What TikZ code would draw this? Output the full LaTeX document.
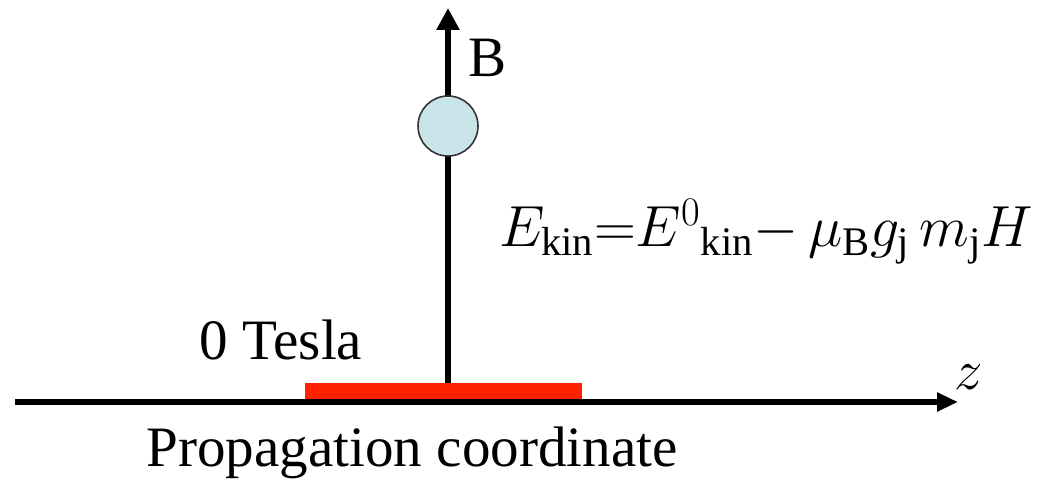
\RequirePackage{fix-cm}
\documentclass[tikz,border=0pt]{standalone}
\usepackage{fontspec}
\setmainfont{Liberation Serif}
\usepackage{xcolor}
\usetikzlibrary{arrows.meta,positioning}
\definecolor{ink}{HTML}{000000}
\definecolor{barred}{HTML}{FF2200}
\definecolor{atomfill}{HTML}{C8E4E8}
\definecolor{atomedge}{HTML}{333333}
\tikzset{
  axis/.style={-{Triangle[length=4.2mm,width=3.6mm]}, line width=3.2pt, draw=ink},
  fieldarrow/.style={-{Triangle[length=4.4mm,width=4.4mm]}, line width=3.2pt, draw=ink},
  bar/.style={fill=barred, draw=none, minimum width=55.4mm, minimum height=3.2mm, inner sep=0pt},
  atom/.style={circle, fill=atomfill, draw=atomedge, line width=0.9pt, minimum size=12mm, inner sep=0pt},
  label/.style={font=\fontsize{32.5}{36}\selectfont, text=ink, inner sep=0pt},
  formula/.style={font=\fontsize{33}{40}\selectfont, text=ink, inner sep=0pt}
}
\begin{document}
\begin{tikzpicture}
\useasboundingbox (0,0) rectangle (20.76,9.78);
\coordinate (zstart) at (0.3,1.74);
\coordinate (zend) at (19.16,1.74);
\node[bar] (field) at (8.87,1.96) {};
\coordinate (Btip) at (8.96,9.62);
\draw[axis] (zstart)--(zend);
\draw[fieldarrow] (field.north -| Btip)--(Btip);
\node[atom] (atom) at (8.96,7.26) {};
\node[label] (Blabel) at (9.76,8.62) {B};
\node[label] (zlabel) at (19.38,2.24) {$z$};
\node[label] (tesla) at (5.62,2.98) {0 Tesla};
\node[label] (prop) at (8.24,0.72) {Propagation coordinate};
\node[formula] (energy) at (15.32,5.15) {$E_{\mathrm{kin}}{=}E^{0}{}_{\mathrm{kin}}{-}\,\mu_{\mathrm{B}}g_{\mathrm{j}}\,m_{\mathrm{j}}H$};
\end{tikzpicture}
\end{document}
